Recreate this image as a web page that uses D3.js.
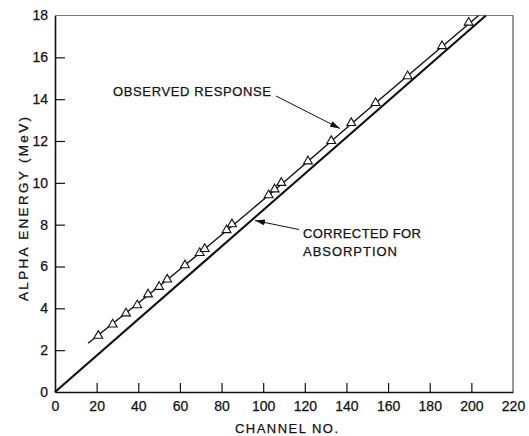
<!DOCTYPE html>
<html>
<head>
<meta charset="utf-8">
<script src="https://cdn.jsdelivr.net/npm/d3@7"></script>
<style>
  html, body { margin: 0; padding: 0; background: #fff; }
  svg { display: block; }
  text { font-family: "Liberation Sans", Arial, sans-serif; fill: #111; }
</style>
</head>
<body>
<svg id="chart" width="529" height="436"></svg>
<script>
// Channel number vs. alpha energy (MeV)
const xTicks = [0, 20, 40, 60, 80, 100, 120, 140, 160, 180, 200, 220];
const yTicks = [0, 2, 4, 6, 8, 10, 12, 14, 16, 18];

// Measured points of the observed response
const obsChannel = [20.8, 27.7, 34.1, 39.5, 44.7, 50.0, 53.9, 62.4, 69.5, 71.9, 82.4,
                    85.0, 102.6, 105.5, 108.7, 121.5, 132.7, 142.3, 154.0, 169.4, 185.9, 198.7];
const obsEnergy  = [2.69, 3.23, 3.76, 4.15, 4.67, 5.03, 5.38, 6.06, 6.65, 6.84, 7.74,
                    8.02, 9.41, 9.69, 10.0, 11.03, 12.0, 12.86, 13.82, 15.1, 16.54, 17.66];

// Curve drawn through the observed points
const fitChannel = [15.9, 62.4, 102.6, 154.0, 203.5];
const fitEnergy  = [2.33, 6.06, 9.41, 13.82, 18.0];

// Response corrected for absorption
const corrChannel = [0, 207];
const corrEnergy  = [0, 18];

const svg = d3.select("#chart");

const x = d3.scaleLinear().domain([0, 220]).range([55, 513]);
const y = d3.scaleLinear().domain([0, 18]).range([392, 15.5]);

// plot frame
svg.append("line").attr("x1", x(0)).attr("x2", x(220)).attr("y1", y(18)).attr("y2", y(18))
  .attr("stroke", "#777").attr("stroke-width", 1.2);
svg.append("line").attr("x1", x(220)).attr("x2", x(220)).attr("y1", y(18)).attr("y2", y(0))
  .attr("stroke", "#333").attr("stroke-width", 1);

// axes with inward ticks
const xAxis = svg.append("g").attr("transform", `translate(0,${y(0)})`)
  .call(d3.axisBottom(x).tickValues(xTicks).tickSize(-9).tickSizeOuter(0).tickPadding(9));
const yAxis = svg.append("g").attr("transform", `translate(${x(0)},0)`)
  .call(d3.axisLeft(y).tickValues(yTicks).tickSize(-10).tickSizeOuter(0).tickPadding(7));

[xAxis, yAxis].forEach(g => {
  g.select(".domain").attr("stroke", "#111").attr("stroke-width", 1.6);
  g.selectAll(".tick line").attr("stroke", "#111").attr("stroke-width", 1.2);
  g.selectAll(".tick text").attr("font-size", 14)
    .attr("font-family", "'Liberation Sans', Arial, sans-serif").attr("fill", "#111")
    .attr("stroke", "#111").attr("stroke-width", 0.25);
});
// hide the inward tick at the frame corners
xAxis.selectAll(".tick").filter(d => d === 0 || d === 220).select("line").remove();
yAxis.selectAll(".tick").filter(d => d === 0 || d === 18).select("line").remove();

// shared style for the lettering
const letter = (sel, len) => sel.attr("font-size", 13)
  .attr("textLength", len).attr("lengthAdjust", "spacing")
  .attr("stroke", "#111").attr("stroke-width", 0.25);

// axis titles
svg.append("text")
  .attr("x", 235).attr("y", 433)
  .call(letter, 103)
  .text("CHANNEL NO.");

svg.append("text")
  .attr("transform", "translate(28,301) rotate(-90)")
  .call(letter, 184).attr("font-size", 13.5)
  .text("ALPHA ENERGY (MeV)");

const line = d3.line().x(d => x(d[0])).y(d => y(d[1]));

// corrected line
svg.append("path")
  .datum(corrChannel.map((c, i) => [c, corrEnergy[i]]))
  .attr("d", line).attr("fill", "none").attr("stroke", "#111").attr("stroke-width", 2.2);

// observed response line
svg.append("path")
  .datum(fitChannel.map((c, i) => [c, fitEnergy[i]]))
  .attr("d", line.curve(d3.curveMonotoneX)).attr("fill", "none")
  .attr("stroke", "#111").attr("stroke-width", 1.4);

// observed points (open triangles)
const tri = d3.symbol().type(d3.symbolTriangle).size(34);
svg.append("g").selectAll("path")
  .data(obsChannel.map((c, i) => [c, obsEnergy[i]]))
  .join("path")
  .attr("transform", d => `translate(${x(d[0])},${y(d[1])})`)
  .attr("d", tri)
  .attr("fill", "#fff").attr("stroke", "#111").attr("stroke-width", 1.1);

// annotations with leader arrows
svg.append("defs").append("marker")
  .attr("id", "arrowhead").attr("viewBox", "0 0 10 6")
  .attr("refX", 10).attr("refY", 3)
  .attr("markerWidth", 10).attr("markerHeight", 6)
  .attr("markerUnits", "userSpaceOnUse").attr("orient", "auto")
  .append("path").attr("d", "M0,0 L10,3 L0,6 Z").attr("fill", "#111");

svg.append("text")
  .attr("x", 113).attr("y", 96)
  .call(letter, 158)
  .text("OBSERVED RESPONSE");
svg.append("line")
  .attr("x1", 276).attr("y1", 96).attr("x2", 340).attr("y2", 128.5)
  .attr("stroke", "#111").attr("stroke-width", 1).attr("marker-end", "url(#arrowhead)");

svg.append("text")
  .attr("x", 303).attr("y", 238)
  .call(letter, 118)
  .text("CORRECTED FOR");
svg.append("text")
  .attr("x", 303).attr("y", 256)
  .call(letter, 94)
  .text("ABSORPTION");
svg.append("line")
  .attr("x1", 299).attr("y1", 229.5).attr("x2", 255).attr("y2", 220.5)
  .attr("stroke", "#111").attr("stroke-width", 1).attr("marker-end", "url(#arrowhead)");
</script>
</body>
</html>
